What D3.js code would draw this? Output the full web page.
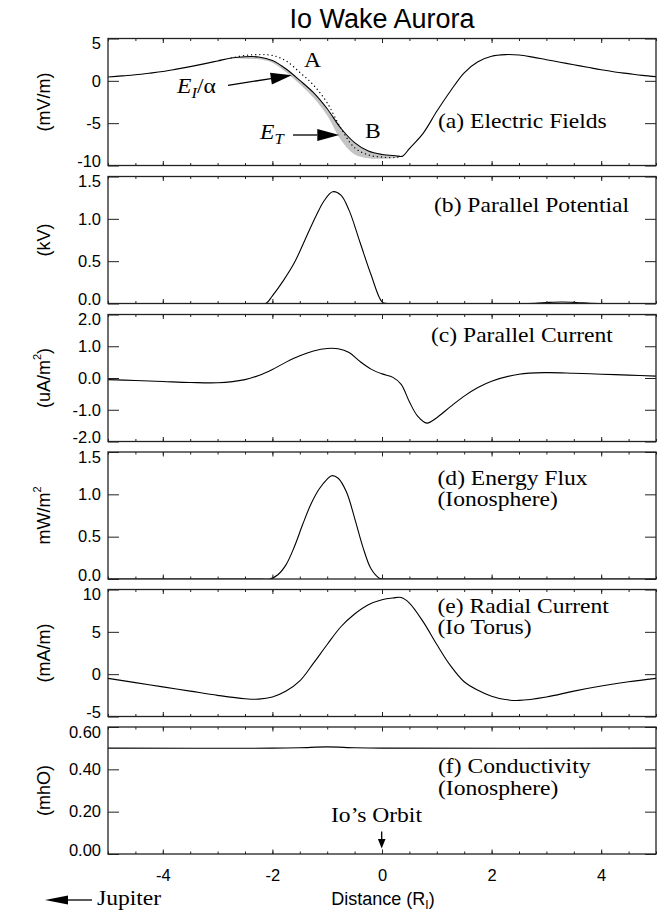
<!DOCTYPE html>
<html>
<head>
<meta charset="utf-8">
<script src="https://cdn.jsdelivr.net/npm/d3@7"></script>
<style>
  body { margin: 0; background: #fff; }
  svg { display: block; }
</style>
</head>
<body>
<div id="chart"></div>
<script>
// ---- data (distance in R_I) ----
// (a) electric fields
const xA = [-5, -4.75, -4.5, -4.25, -4, -3.75, -3.5, -3.25, -3, -2.75, -2.5, -2.25, -2, -1.75, -1.5, -1.25,
  -1, -0.75, -0.5, -0.25, 0, 0.25, 0.375, 0.5, 0.75, 1, 1.25, 1.5, 1.75, 2, 2.25, 2.5, 2.75, 3, 3.25,
  3.5, 3.75, 4, 4.25, 4.5, 4.75, 5]
const eFieldT = [0.45, 0.58, 0.72, 0.9, 1.1, 1.38, 1.68, 2.0, 2.35, 2.7, 2.85, 2.82, 2.4, 1.4, 0.05, -1.4,
  -3.3, -5.6, -7.3, -8.3, -8.7, -8.85, -8.9, -8.0, -6.2, -3.6, -1.2, 0.95, 2.25, 2.9, 3.1, 3.05, 2.8, 2.5, 2.2,
  1.9, 1.6, 1.3, 1.05, 0.85, 0.65, 0.5]
const xBand = [-2.75, -2.5, -2.25, -2, -1.75, -1.5, -1.25, -1, -0.75, -0.5, -0.25, 0, 0.25, 0.375]
const eFieldDotted = [2.72, 3.0, 3.1, 3.0, 2.35, 1.0, -0.5, -2.6, -5.6, -7.9, -8.75, -9.0, -9.05, -8.9]
const eFieldLower = [2.7, 2.6, 2.55, 2.15, 1.0, -0.4, -2.0, -4.1, -7.0, -8.7, -9.15, -9.2, -9.1, -8.9]

// (b) parallel potential, kV
const xB = [-5, -2.3, -2.12, -2.0, -1.8, -1.6, -1.4, -1.2, -1.05, -0.9, -0.75, -0.6, -0.4, -0.2, 0.0, 0.1,
  2.6, 2.8, 3.05, 3.3, 3.55, 3.8, 4.0, 5]
const potential = [0, 0, 0, 0.09, 0.27, 0.48, 0.76, 1.04, 1.22, 1.32, 1.28, 1.1, 0.72, 0.34, 0.02, 0,
  0, 0.002, 0.013, 0.018, 0.012, 0.002, 0, 0]

// (c) parallel current, uA/m^2
const xC = [-5, -4.5, -4, -3.5, -3, -2.5, -2.25, -2, -1.75, -1.5, -1.25, -1, -0.8, -0.6, -0.4, -0.2, 0,
  0.2, 0.35, 0.5, 0.65, 0.82, 1.0, 1.25, 1.5, 1.75, 2, 2.5, 3, 3.5, 4, 4.5, 5]
const parCurrent = [-0.05, -0.08, -0.11, -0.14, -0.15, -0.05, 0.08, 0.27, 0.5, 0.7, 0.85, 0.93, 0.92, 0.8,
  0.52, 0.28, 0.13, 0.02, -0.2, -0.75, -1.2, -1.42, -1.25, -0.9, -0.57, -0.3, -0.1, 0.12, 0.17, 0.15, 0.12,
  0.09, 0.06]

// (d) energy flux, mW/m^2
const xD = [-5, -2.2, -2.05, -1.9, -1.75, -1.6, -1.45, -1.3, -1.15, -1.0, -0.92, -0.8, -0.65, -0.5, -0.35,
  -0.2, -0.05, 0.05, 0.2, 5]
const energyFlux = [0, 0, 0, 0.05, 0.17, 0.38, 0.64, 0.88, 1.06, 1.18, 1.22, 1.19, 1.03, 0.72, 0.38,
  0.12, 0.01, 0, 0, 0]

// (e) radial current, mA/m
const xE = [-5, -4.5, -4, -3.5, -3, -2.5, -2.25, -2, -1.75, -1.5, -1.25, -1, -0.75, -0.5, -0.25, 0, 0.2,
  0.35, 0.5, 0.75, 1, 1.25, 1.5, 1.75, 2, 2.25, 2.5, 3, 3.5, 4, 4.5, 5]
const radCurrent = [-0.5, -1.0, -1.5, -2.0, -2.5, -2.9, -2.95, -2.7, -2.0, -0.8, 1.3, 3.5, 5.6, 7.1, 8.2,
  8.8, 9.0, 9.05, 8.4, 6.2, 3.5, 1.0, -0.9, -1.9, -2.6, -3.0, -3.1, -2.7, -2.0, -1.4, -0.9, -0.5]

// (f) conductivity, mho
const xF = [-5, -2, -1.5, -1, -0.5, 0, 5]
const conductivity = [0.5, 0.5, 0.502, 0.506, 0.502, 0.5, 0.5]

// tick values and labels
const xMajor = [-4, -2, 0, 2, 4]
const xTickLabels = ['-4', '-2', '0', '2', '4']
const ticksA = [-10, -5, 0, 5], labelsA = ['-10', '-5', '0', '5']
const ticksB = [0, 0.5, 1, 1.5], labelsB = ['0.0', '0.5', '1.0', '1.5']
const ticksC = [-2, -1, 0, 1, 2], labelsC = ['-2.0', '-1.0', '0.0', '1.0', '2.0']
const ticksD = [0, 0.5, 1, 1.5], labelsD = ['0.0', '0.5', '1.0', '1.5']
const ticksE = [-5, 0, 5, 10], labelsE = ['-5', '0', '5', '10']
const ticksF = [0, 0.2, 0.4, 0.6], labelsF = ['0.00', '0.20', '0.40', '0.60']

// ---- layout ----
const width = 657
const height = 911
const sans = '"Liberation Sans", Arial, Helvetica, sans-serif'
const serifFont = '"Liberation Serif", "Times New Roman", serif'
const panelTops = [38.5, 176.5, 314.5, 452, 589.5, 727]
const panelH = 127

const svg = d3.select('#chart').append('svg')
  .attr('width', width)
  .attr('height', height)

const x = d3.scaleLinear().domain([-5, 5]).range([108, 656])
const smooth = d3.curveCatmullRom.alpha(0.5)

const panels = [
  {domain: [-10, 5], ticks: ticksA, labels: labelsA, title: [['(mV/m)']], series: [[xA, eFieldT]],
    notes: [{x: 438, y: 128, text: '(a) Electric Fields'}]},
  {domain: [0, 1.5], ticks: ticksB, labels: labelsB, title: [['(kV)']], series: [[xB, potential]],
    notes: [{x: 434, y: 212, text: '(b) Parallel Potential'}]},
  {domain: [-2, 2], ticks: ticksC, labels: labelsC, title: [['(uA/m'], ['2', 'sup'], [')']], series: [[xC, parCurrent]],
    notes: [{x: 431, y: 342, text: '(c) Parallel Current'}]},
  {domain: [0, 1.5], ticks: ticksD, labels: labelsD, title: [['mW/m'], ['2', 'sup']], series: [[xD, energyFlux]],
    notes: [{x: 437.5, y: 485, text: '(d) Energy Flux'}, {x: 437.5, y: 506, text: '(Ionosphere)'}]},
  {domain: [-5, 10], ticks: ticksE, labels: labelsE, title: [['(mA/m)']], series: [[xE, radCurrent]],
    notes: [{x: 437.5, y: 612.5, text: '(e) Radial Current'}, {x: 437.5, y: 634, text: '(Io Torus)'}]},
  {domain: [0, 0.6], ticks: ticksF, labels: labelsF, title: [['(mhO)']], series: [[xF, conductivity]],
    notes: [{x: 438, y: 773, text: '(f) Conductivity'}, {x: 438, y: 795, text: '(Ionosphere)'}]}
]

function serifText (sel, px, py, parts, size = 20.5) {
  let t = sel.append('text')
    .attr('transform', `translate(${px},${py}) scale(1.15,1)`)
    .attr('font-family', serifFont)
    .attr('font-size', size)
    .attr('fill', '#000')
  let shifted = 0
  parts.forEach(p => {
    let s = t.append('tspan').text(p.text)
    if (p.italic) s.attr('font-style', 'italic')
    let want = p.sub ? 5 : 0
    if (want !== shifted) { s.attr('dy', want - shifted); shifted = want }
    if (p.sub) s.attr('font-size', size * 0.7)
  })
  return t
}

function arrow (sel, x1, y1, x2, y2, headLen, halfW) {
  let a = Math.atan2(y2 - y1, x2 - x1)
  let bx = x2 - headLen * Math.cos(a)
  let by = y2 - headLen * Math.sin(a)
  let nx = -Math.sin(a) * halfW
  let ny = Math.cos(a) * halfW
  sel.append('line')
    .attr('x1', x1).attr('y1', y1).attr('x2', bx).attr('y2', by)
    .attr('stroke', '#000').attr('stroke-width', 1.3)
  sel.append('path')
    .attr('d', `M${x2},${y2}L${bx + nx},${by + ny}L${bx - nx},${by - ny}Z`)
    .attr('fill', '#000')
}

function styleAxis (g) {
  g.select('.domain').remove()
  g.attr('font-family', sans).attr('font-size', 16.5)
  g.selectAll('.tick line').attr('stroke', '#222').attr('stroke-width', 1)
  g.selectAll('.tick text').attr('fill', '#000')
}

svg.append('defs').append('clipPath').attr('id', 'plotclip')
  .append('rect').attr('x', 108).attr('y', 0).attr('width', 548).attr('height', panelH)

panels.forEach((p, i) => {
  let top = panelTops[i]
  let g = svg.append('g').attr('transform', `translate(0,${top})`)
  let y = d3.scaleLinear().domain(p.domain).range([panelH, 0])
  let plot = g.append('g').attr('clip-path', 'url(#plotclip)')

  // gray band and dotted field in panel (a)
  if (i === 0) {
    let upper = xBand.map(v => eFieldT[xA.indexOf(v)])
    let band = xBand.map((v, k) => ({x: v, lo: eFieldLower[k], hi: upper[k]}))
    plot.append('path')
      .datum(band)
      .attr('fill', '#c4c4c4')
      .attr('d', d3.area().x(d => x(d.x)).y0(d => y(d.lo)).y1(d => y(d.hi)).curve(smooth))
    plot.append('path')
      .datum(xBand.map((v, k) => [v, eFieldDotted[k]]))
      .attr('fill', 'none')
      .attr('stroke', '#000')
      .attr('stroke-width', 1.3)
      .attr('stroke-linecap', 'round')
      .attr('stroke-dasharray', '0.1 4')
      .attr('d', d3.line().x(d => x(d[0])).y(d => y(d[1])).curve(smooth))
  }

  p.series.forEach(([xs, ys]) => {
    plot.append('path')
      .datum(xs.map((v, k) => [v, ys[k]]))
      .attr('fill', 'none')
      .attr('stroke', '#000')
      .attr('stroke-width', 1.1)
      .attr('d', d3.line().x(d => x(d[0])).y(d => y(d[1])).curve(smooth))
  })

  // y axes, ticks pointing inward
  let yl = g.append('g').attr('transform', 'translate(108,0)')
    .call(d3.axisLeft(y).tickValues(p.ticks).tickSize(-11).tickPadding(7).tickFormat((d, k) => p.labels[k]))
  styleAxis(yl)
  yl.selectAll('.tick text').attr('y', (d, k) => k === 0 ? -4 : (k === p.ticks.length - 1 ? 5 : 0))
  let yr = g.append('g').attr('transform', 'translate(656,0)')
    .call(d3.axisRight(y).tickValues(p.ticks).tickSize(-11).tickFormat(''))
  styleAxis(yr)

  // x ticks on top and bottom of every panel
  let last = i === panels.length - 1
  let xb = g.append('g').attr('transform', `translate(0,${panelH})`)
  xb.append('g').call(d3.axisBottom(x).tickValues(x.ticks(20)).tickSize(-2.5).tickFormat('')).call(styleAxis)
  xb.append('g').call(d3.axisBottom(x).tickValues(xMajor).tickSize(-4.5).tickPadding(15.5)
    .tickFormat((d, k) => last ? xTickLabels[k] : '')).call(styleAxis)
  let xt = g.append('g')
  xt.append('g').call(d3.axisTop(x).tickValues(x.ticks(20)).tickSize(-2.5).tickFormat('')).call(styleAxis)
  xt.append('g').call(d3.axisTop(x).tickValues(xMajor).tickSize(-4.5).tickFormat('')).call(styleAxis)

  g.append('rect')
    .attr('x', 108).attr('y', 0)
    .attr('width', 548).attr('height', panelH)
    .attr('fill', 'none')
    .attr('stroke', '#222')
    .attr('stroke-width', 1.3)

  // y title
  let yt = svg.append('text')
    .attr('transform', `translate(44,${top + panelH / 2}) rotate(-90)`)
    .attr('text-anchor', 'middle')
    .attr('dominant-baseline', 'central')
    .attr('font-family', sans)
    .attr('font-size', 18)
  let up = false
  p.title.forEach(([txt, kind]) => {
    let s = yt.append('tspan').text(txt)
    if (kind === 'sup') { s.attr('font-size', 11).attr('dy', -7); up = true } else if (up) { s.attr('dy', 7); up = false }
  })

  p.notes.forEach(n => serifText(svg, n.x, n.y, [{text: n.text}]))
})

// title
svg.append('text')
  .attr('x', 382).attr('y', 28.3)
  .attr('text-anchor', 'middle')
  .attr('font-family', sans)
  .attr('font-size', 27)
  .text('Io Wake Aurora')

// annotations in panel (a)
serifText(svg, 177, 92.7, [{text: 'E', italic: true}, {text: 'I', italic: true, sub: true}, {text: '/α'}])
arrow(svg, 228, 85.3, 291.7, 75.3, 21, 6)
serifText(svg, 260, 139.3, [{text: 'E', italic: true}, {text: 'T', italic: true, sub: true}])
arrow(svg, 293, 135, 339.3, 135, 22, 6)
serifText(svg, 304, 66.7, [{text: 'A'}])
serifText(svg, 365, 137.7, [{text: 'B'}])

// Io's orbit marker
serifText(svg, 331, 821.7, [{text: 'Io’s Orbit'}])
arrow(svg, 381.7, 831.5, 381.7, 848.5, 9.5, 3.8)

// x axis title and Jupiter direction
let xtitle = svg.append('text')
  .attr('x', 383).attr('y', 904.5)
  .attr('text-anchor', 'middle')
  .attr('font-family', sans)
  .attr('font-size', 18)
xtitle.append('tspan').text('Distance (R')
xtitle.append('tspan').text('I').attr('font-size', 12).attr('dy', 4)
xtitle.append('tspan').text(')').attr('dy', -4)

arrow(svg, 92, 900, 45, 900, 23, 4.5)
serifText(svg, 97, 905, [{text: 'Jupiter'}])
</script>
</body>
</html>
